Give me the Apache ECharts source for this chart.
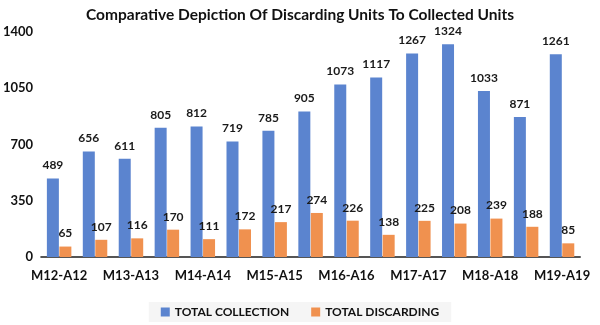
<!DOCTYPE html>
<html>
<head>
<meta charset="utf-8">
<script src="https://cdn.jsdelivr.net/npm/echarts@6/dist/echarts.min.js"></script>
<style>html,body{margin:0;padding:0;background:#fff;}#c{width:600px;height:325px;}</style>
</head>
<body>
<div id="c"></div>
<script>
const categories = ["M12-A12","S12-F13","M13-A13","S13-F14","M14-A14","S14-F15","M15-A15","S15-F16","M16-A16","S16-F17","M17-A17","S17-F18","M18-A18","S18-F19","M19-A19"];
const totalCollection = [489,656,611,805,812,719,785,905,1073,1117,1267,1324,1033,871,1261];
const totalDiscarding = [65,107,116,170,111,172,217,274,226,138,225,208,239,188,85];
const yTicks = [0,350,700,1050,1400];
const seriesNames = ["TOTAL COLLECTION","TOTAL DISCARDING"];
const FONT = "Lato";

const chart = echarts.init(document.getElementById('c'));
const labelStyle = {show:true, position:'top', distance:7, fontFamily:FONT, fontSize:12, fontWeight:'bold', color:'#1a1a1a'};
chart.setOption({
  animation:false,
  title:{text:"Comparative Depiction Of Discarding Units To Collected Units", left:'center', top:2,
    textStyle:{fontFamily:FONT, fontSize:15.5, fontWeight:'bold', color:'#111'}},
  grid:{left:40, right:20, top:32, bottom:68},
  legend:{bottom:3, left:'center', itemWidth:9, itemHeight:9, itemGap:22, icon:'rect',
    backgroundColor:'#f5f5f5', padding:[4,12],
    textStyle:{fontFamily:FONT, fontSize:12, fontWeight:'bold', color:'#111'}},
  xAxis:{type:'category', data:categories,
    axisLine:{lineStyle:{color:'#555', width:2}}, axisTick:{show:false},
    axisLabel:{interval:1, margin:12, fontFamily:FONT, fontSize:13, fontWeight:'bold', color:'#111'}},
  yAxis:{type:'value', min:yTicks[0], max:yTicks[yTicks.length-1], interval:350,
    splitLine:{show:false}, axisLine:{show:false}, axisTick:{show:false},
    axisLabel:{margin:8, formatter:function(v){return String(v);}, fontFamily:FONT, fontSize:13, fontWeight:'bold', color:'#111'}},
  series:[
    {name:seriesNames[0], type:'bar', data:totalCollection, barWidth:12, barGap:'4%',
     itemStyle:{color:'#5b84cf'}, label:labelStyle},
    {name:seriesNames[1], type:'bar', data:totalDiscarding, barWidth:12,
     itemStyle:{color:'#f0914f'}, label:labelStyle}
  ]
});
</script>
</body>
</html>
